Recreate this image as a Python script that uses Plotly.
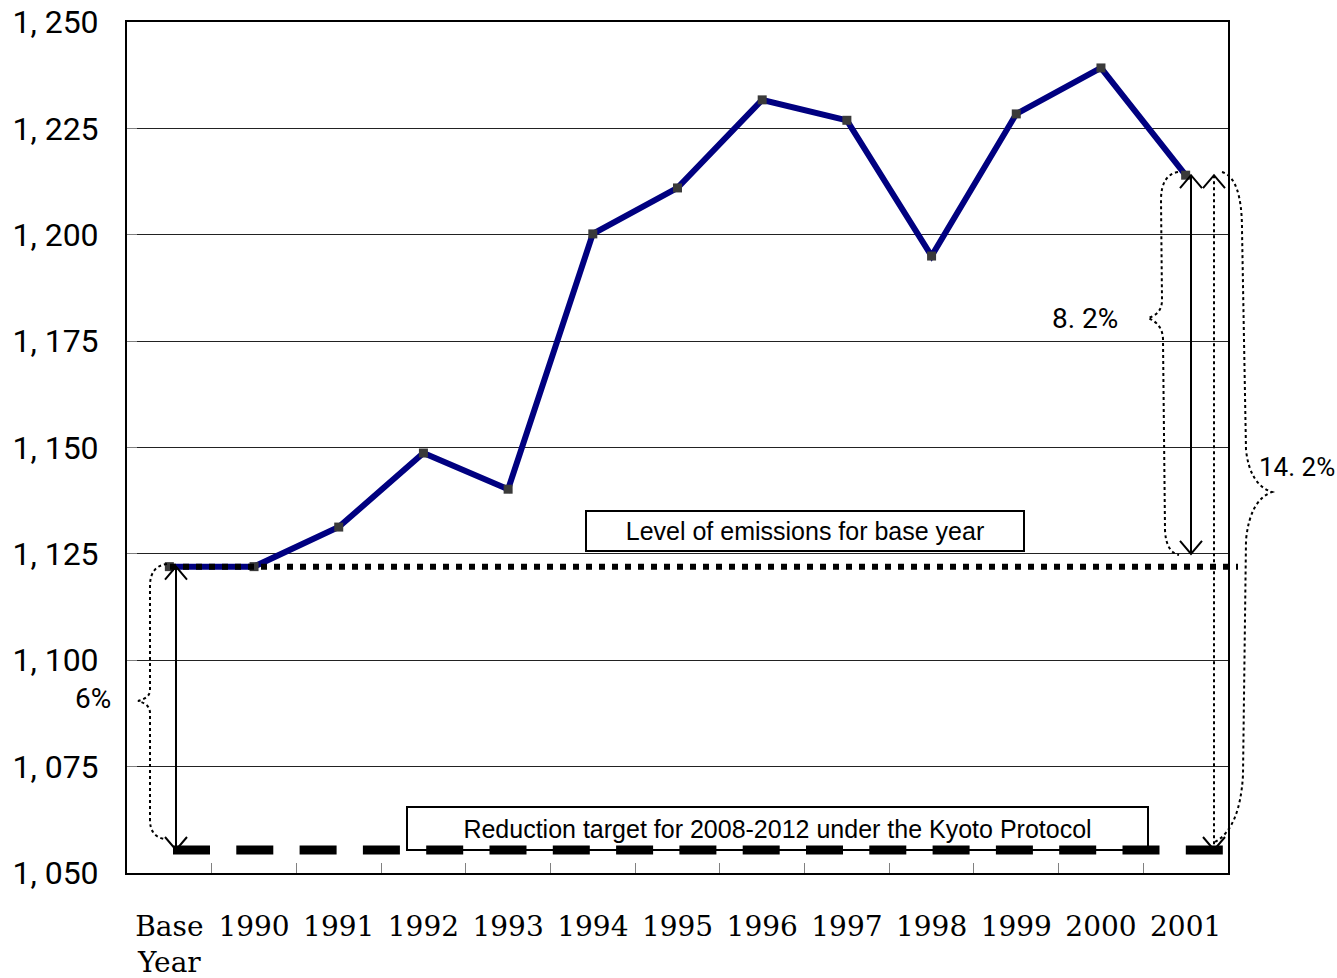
import plotly.graph_objects as go

# ---------------- data ----------------
CATEGORIES = ["Base<br>Year", "1990", "1991", "1992", "1993", "1994", "1995",
              "1996", "1997", "1998", "1999", "2000", "2001"]
EMISSIONS = [1122.0, 1122.0, 1131.3, 1148.7, 1140.2, 1200.2, 1211.0,
             1231.7, 1226.9, 1195.0, 1228.4, 1239.2, 1214.0]
BASE_LEVEL = 1122.0
TARGET_LEVEL = 1055.4
Y_TICKS = [1050, 1075, 1100, 1125, 1150, 1175, 1200, 1225, 1250]
Y_TICK_TEXT = ["1, 050", "1, 075", "1, 100", "1, 125", "1, 150",
               "1, 175", "1, 200", "1, 225", "1, 250"]
PCT_LABELS = ["6%", "8. 2%", "14. 2%"]
BOX_LABELS = ["Level of emissions for base year",
              "Reduction target for 2008-2012 under the Kyoto Protocol"]

# ---------------- geometry helpers (layout only) ----------------
W, H = 1337, 978
PL, PR, PT, PB = 127, 1228, 22, 873
Y_MIN, Y_MAX = 1050, 1250


def fx(px):
    return (px - PL) / (PR - PL)


def fy(py):
    return (PB - py) / (PB - PT)


def vy(py):
    return Y_MIN + (PB - py) / (PB - PT) * (Y_MAX - Y_MIN)


fig = go.Figure()
fig.add_trace(go.Scatter(
    x=CATEGORIES, y=EMISSIONS, mode="lines+markers",
    line=dict(color="#000080", width=6),
    marker=dict(symbol="square", size=9, color="#3a3a3a"),
    showlegend=False, hoverinfo="x+y"))

shapes = []


def hline(px0, px1, yval, dash, width):
    return dict(type="line", xref="paper", yref="y", x0=fx(px0), x1=fx(px1),
                y0=yval, y1=yval, line=dict(color="black", width=width, dash=dash),
                layer="above")


def vline(px, y0, y1, dash="solid", width=2):
    return dict(type="line", xref="paper", yref="y", x0=fx(px), x1=fx(px),
                y0=y0, y1=y1, line=dict(color="black", width=width, dash=dash),
                layer="above")


def chevron(px, yval, up, w=11, h=13):
    s = -h if up else h
    return dict(type="path", xref="paper", yref="y", xsizemode="pixel",
                ysizemode="pixel", xanchor=fx(px), yanchor=yval,
                path=f"M{-w},{s} L0,0 L{w},{s}",
                line=dict(color="black", width=2), layer="above")


def brace(cmds):
    parts = []
    for c in cmds:
        op, pts = c[0], c[1:]
        parts.append(op + " ".join(f"{fx(x):.5f},{vy(y):.4f}" for x, y in pts))
    return dict(type="path", xref="paper", yref="y", path=" ".join(parts),
                line=dict(color="black", width=2, dash="dot"), layer="above")


# base level (dotted) and target (dashed)
shapes.append(hline(170, 1238, BASE_LEVEL, "6px,7px", 6))
shapes.append(hline(173, 1223, TARGET_LEVEL, "37px,26.3px", 9))

# arrows
shapes.append(vline(176, BASE_LEVEL, TARGET_LEVEL))
shapes.append(chevron(176, BASE_LEVEL, True))
shapes.append(chevron(176, TARGET_LEVEL, False))

shapes.append(vline(1191, EMISSIONS[-1], 1125))
shapes.append(chevron(1191, EMISSIONS[-1], True))
shapes.append(chevron(1191, 1125, False))

shapes.append(vline(1214, EMISSIONS[-1], TARGET_LEVEL, dash="dot"))
shapes.append(chevron(1214, EMISSIONS[-1], True))
shapes.append(chevron(1214, TARGET_LEVEL, False))

# curly braces
shapes.append(brace([
    ("M", (167, 564)), ("Q", (150, 566), (150, 586)), ("L", (150, 690)),
    ("Q", (150, 698), (138, 701)), ("Q", (150, 704), (150, 713)),
    ("L", (150, 820)), ("Q", (150, 836), (164, 839))]))
shapes.append(brace([
    ("M", (1178, 172)), ("Q", (1161, 175), (1161, 200)), ("L", (1162, 300)),
    ("Q", (1162, 314), (1148, 318)), ("Q", (1163, 324), (1163, 340)),
    ("L", (1165, 530)), ("Q", (1166, 552), (1179, 555))]))
shapes.append(brace([
    ("M", (1222, 172)), ("Q", (1242, 178), (1242, 230)), ("L", (1246, 450)),
    ("Q", (1250, 485), (1272, 492)), ("Q", (1250, 500), (1246, 540)),
    ("L", (1243, 775)), ("Q", (1240, 828), (1215, 842))]))


def label(px, py, text, size, family="Roboto", xanchor="center", **kw):
    return dict(xref="paper", yref="paper", x=fx(px), y=fy(py), text=text,
                xanchor=xanchor, yanchor="middle", showarrow=False,
                font=dict(family=family, size=size, color="black"), **kw)


annotations = [
    label(805, 531, BOX_LABELS[0], 25, family="Liberation Sans",
          width=436, height=38, borderwidth=2, bordercolor="black",
          borderpad=0, bgcolor="rgba(0,0,0,0)"),
    label(777.5, 828.5, BOX_LABELS[1], 25, family="Liberation Sans",
          width=739, height=41, borderwidth=2, bordercolor="black",
          borderpad=0, bgcolor="rgba(0,0,0,0)"),
    label(93, 698, PCT_LABELS[0], 28),
    label(1085, 318, PCT_LABELS[1], 28),
    label(1257, 467, PCT_LABELS[2], 26, xanchor="left"),
]

fig.update_layout(
    width=W, height=H,
    margin=dict(l=PL, r=W - PR, t=PT, b=H - PB, pad=0, autoexpand=False),
    paper_bgcolor="white", plot_bgcolor="white",
    shapes=shapes, annotations=annotations,
    showlegend=False,
)
fig.update_xaxes(
    type="category", range=[-0.5, len(CATEGORIES) - 0.5], automargin=False,
    showline=True, linecolor="black", linewidth=2, mirror=True,
    showgrid=False, zeroline=False,
    ticks="inside", tickson="boundaries", ticklen=10, tickcolor="#808080", tickwidth=1,
    tickfont=dict(family="DejaVu Serif", size=28, color="black"),
    ticklabelstandoff=27, ticklabeloverflow="allow",
)
fig.update_yaxes(
    range=[Y_MIN, Y_MAX], tickvals=Y_TICKS, ticktext=Y_TICK_TEXT,
    automargin=False,
    showline=True, linecolor="black", linewidth=2, mirror=True,
    showgrid=True, gridcolor="#222222", gridwidth=1, zeroline=False,
    ticks="inside", ticklen=10, tickcolor="#808080", tickwidth=1,
    tickfont=dict(family="Roboto", size=32, color="black"),
    ticklabelstandoff=20, ticklabeloverflow="allow",
)

fig.write_html("out.html", config={"displayModeBar": False},
               post_script="document.body.style.margin='0px';")
